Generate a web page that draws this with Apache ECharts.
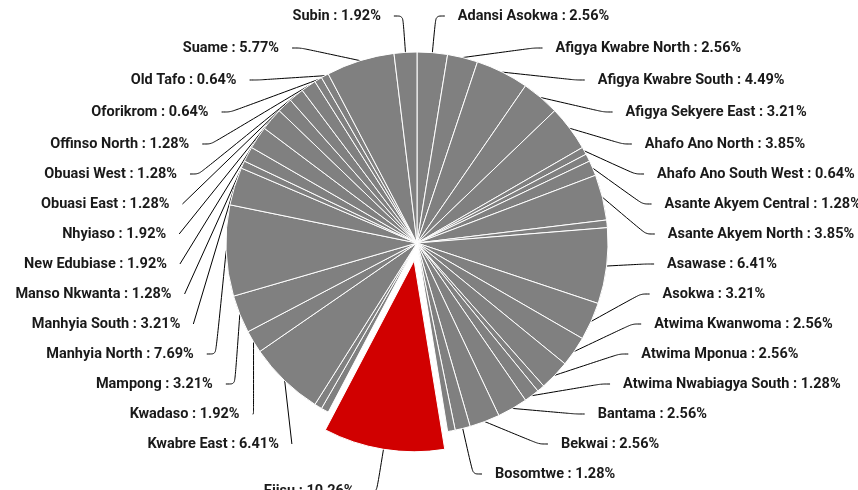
<!DOCTYPE html>
<html>
<head>
<meta charset="utf-8">
<title>Pie</title>
<script src="https://cdn.jsdelivr.net/npm/echarts@6/dist/echarts.min.js"></script>
<style>
    html, body { margin: 0; padding: 0; background: #fff; }
    #main { width: 858px; height: 490px; }
</style>
</head>
<body>
<div id="main"></div>
<script>
// constituencies, clockwise from the top
var names = [
    'Adansi Asokwa', 'Afigya Kwabre North', 'Afigya Kwabre South', 'Afigya Sekyere East',
    'Ahafo Ano North', 'Ahafo Ano South West', 'Akrofuom', 'Asante Akyem Central',
    'Asante Akyem North', 'Asante Akyem South', 'Asawase', 'Asokwa',
    'Atwima Kwanwoma', 'Atwima Mponua', 'Atwima Nwabiagya North', 'Atwima Nwabiagya South',
    'Bantama', 'Bekwai', 'Bosomtwe', 'Effiduase Asokore',
    'Ejisu', 'Ejura Sekyedumase', 'Juaben', 'Kwabre East',
    'Kwadaso', 'Mampong', 'Manhyia North', 'Manhyia South',
    'Manso Adubia', 'Manso Nkwanta', 'New Edubiase', 'Nhyiaso',
    'Obuasi East', 'Obuasi West', 'Offinso North', 'Oforikrom',
    'Old Tafo', 'Suame', 'Subin'
];
var counts = [
    4, 4, 7, 5,
    6, 1, 1, 2,
    6, 1, 10, 5,
    4, 4, 1, 2,
    4, 4, 2, 1,
    16, 1, 1, 10,
    3, 5, 12, 5,
    1, 2, 3, 3,
    2, 2, 2, 1,
    1, 9, 3
];
// slices whose label is not drawn
var noLabel = ['Akrofuom', 'Asante Akyem South', 'Atwima Nwabiagya North', 'Effiduase Asokore',
    'Ejura Sekyedumase', 'Juaben', 'Manso Adubia'];
var highlight = 'Ejisu';

var total = 0;
for (var k = 0; k < counts.length; k++) total += counts[k];

var pieData = [];
for (var i = 0; i < names.length; i++) {
    var item = { name: names[i], value: counts[i] };
    if (noLabel.indexOf(names[i]) >= 0) {
        item.label = { show: false };
        item.labelLine = { show: false };
    }
    if (names[i] == highlight) {
        item.selected = true;
        item.itemStyle = { color: '#d10000' };
    }
    pieData.push(item);
}

var chart = echarts.init(document.getElementById('main'));
var option = {
    animation: false,
    series: [
        {
            type: 'pie',
            center: [417, 243],
            radius: 191,
            startAngle: 90,
            selectedMode: 'single',
            selectedOffset: 18,
            itemStyle: {
                color: '#808080',
                borderColor: '#fff',
                borderWidth: 1
            },
            label: {
                // plain percentage, no largest-remainder rounding
                formatter: function (p) {
                    return p.name + ' : ' + (p.value / total * 100).toFixed(2) + '%';
                },
                color: '#1a1a1a',
                fontFamily: 'Roboto',
                fontWeight: 'bold',
                fontSize: 14.5,
                lineHeight: 30,
                padding: [0, 8],
                overflow: 'none'
            },
            labelLine: {
                length: 43,
                length2: 9,
                smooth: true,
                lineStyle: { color: '#000', width: 1 }
            },
            emphasis: { disabled: true },
            data: pieData
        }
    ]
};
chart.setOption(option);
</script>
</body>
</html>
